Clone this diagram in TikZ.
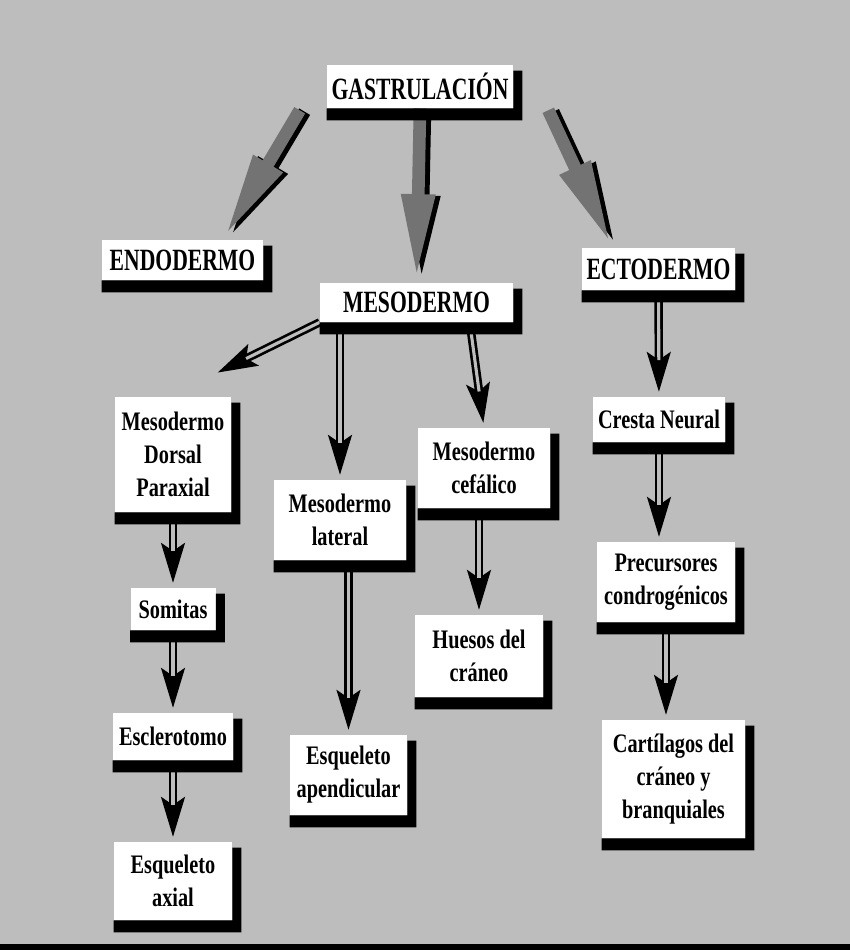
\documentclass[tikz,border=0pt]{standalone}
\usepackage{fontspec}
\setmainfont{Liberation Serif}[UprightFont=* Bold, FakeStretch=0.76]
\newfontfamily\capsfont{Liberation Serif}[UprightFont=* Bold, FakeStretch=0.70]
\usetikzlibrary{arrows.meta,calc}
\colorlet{bgc}{black!26}

\tikzset{
    box/.style 2 args={fill=white, inner sep=0pt, align=center,
        minimum width=#1*0.025cm, minimum height=#2*0.025cm,
        font=\fontsize{19}{23.5}\selectfont}
}

\begin{document}
\begin{tikzpicture}[
    x=0.025cm, y=-0.025cm,
    capsbox/.style={font=\capsfont\fontsize{22}{26}\selectfont},
    bigarrow/.style={line width=9pt, draw=black!55,
        -{Triangle[length=60pt,width=22pt]}, shorten >=3pt},
    bigshadow/.style={bigarrow, draw=black,
        transform canvas={xshift=3.5pt,yshift=-1pt}},
    dbl/.style={line width=6pt, -{Stealth[length=28pt,width=16pt,inset=5pt]},
        shorten >=3pt, shorten <=8pt,
        postaction={draw=bgc, line width=2.2pt, -, shorten >=26pt}}
]
    \useasboundingbox (0,0) rectangle (850,950);
    \fill[bgc] (0,0) rectangle (850,944);
    \fill (0,944) rectangle (850,950);

    % 1. Define the nodes
    \node[box={186}{43}, capsbox] (gas)  at (420,86.5)  {GASTRULACIÓN};
    \node[box={161}{40}, capsbox] (endo) at (182.5,260) {ENDODERMO};
    \node[box={193}{39}, capsbox] (meso) at (416.5,302.5) {MESODERMO};
    \node[box={153}{42}, capsbox] (ecto) at (658.5,269) {ECTODERMO};
    \node[box={116}{115}] (dors) at (173,454.5) {Mesodermo\\Dorsal\\Paraxial};
    \node[box={132}{80}]  (lat)  at (340,520)   {Mesodermo\\lateral};
    \node[box={132}{80}]  (cef)  at (484,468)   {Mesodermo\\cefálico};
    \node[box={132}{45}]  (cre)  at (659,419.5) {Cresta Neural};
    \node[box={85}{42}]   (som)  at (173,609)   {Somitas};
    \node[box={128}{82}]  (hue)  at (479,656)   {Huesos del\\cráneo};
    \node[box={138}{80}]  (pre)  at (666,582)   {Precursores\\condrogénicos};
    \node[box={120}{47}]  (scl)  at (173,736.5) {Esclerotomo};
    \node[box={117}{80}]  (apen) at (348.5,775) {Esqueleto\\apendicular};
    \node[box={143}{118}] (cart) at (673.5,779) {Cartílagos del\\cráneo y\\branquiales};
    \node[box={118}{78}]  (axi)  at (173,881)   {Esqueleto\\axial};

    % 2. Draw the arrows

    % GASTRULACIÓN -> the three layers
    \coordinate (gl) at ($(gas.south west)+(-27,2)$);
    \coordinate (gr) at ($(gas.south east)+(35,2)$);
    \coordinate (tl) at ($(endo.north)!0.5!(endo.north east)$);
    \coordinate (tr) at ($(ecto.north west)!0.4!(ecto.north)$);
    \foreach \s/\t in {gl/tl, gas.south/meso.north, gr/tr} {
        \draw[bigshadow] (\s) -- (\t);
        \draw[bigarrow] (\s) -- (\t);
    }

    % MESODERMO -> its three parts
    \draw[dbl, shorten <=0pt] (meso.south west) -- ($(dors.north east)+(-18,-22)$);
    \draw[dbl] (meso.south -| lat.north) -- (lat.north);
    \draw[dbl] ($(meso.south)!0.55!(meso.south east)$) -- (cef.north);

    % paraxial column
    \draw[dbl] (dors) -- (som);
    \draw[dbl] (som) -- (scl);
    \draw[dbl] (scl) -- (axi);

    % lateral and cephalic
    \draw[dbl] (lat.south -| apen.north) -- (apen.north);
    \draw[dbl] (cef.south -| hue.north) -- (hue.north);

    % ECTODERMO column
    \draw[dbl] (ecto) -- (cre);
    \draw[dbl] (cre.south) -- (cre.south |- pre.north);
    \draw[dbl] (pre.south) -- (pre.south |- cart.north);

    % 3. Shadows of the boxes
    \foreach \n in {gas,endo,meso,ecto,dors,lat,cef,cre,som,hue,pre,scl,apen,cart,axi}
        \fill (\n.south west) -- (\n.south east) -- ([yshift=-0.15cm]\n.north east)
            -- ++(9,0) |- ([yshift=-0.3cm]\n.south west) -- cycle;

\end{tikzpicture}
\end{document}
